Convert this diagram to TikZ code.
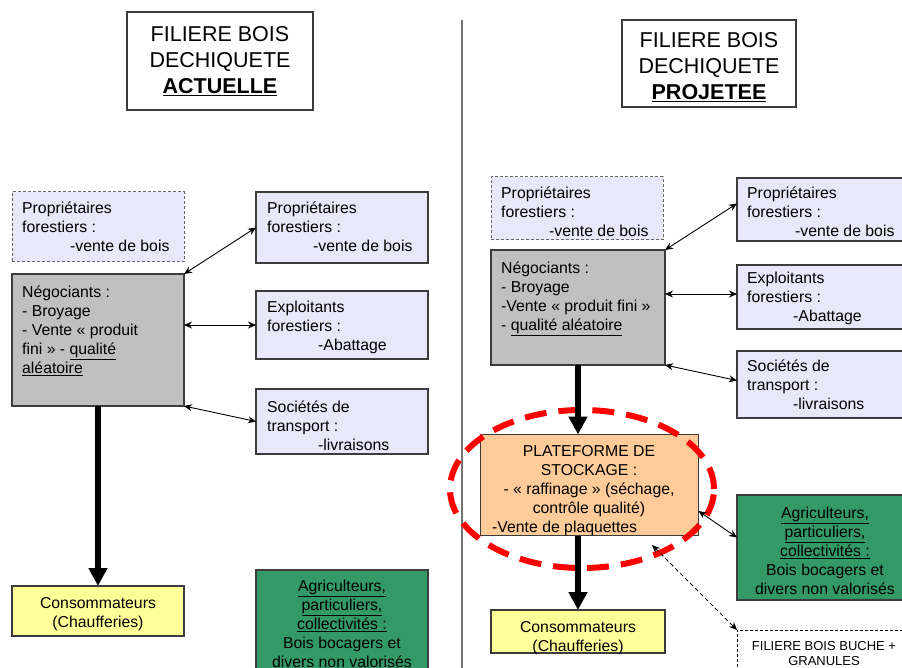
\documentclass[tikz,border=0pt]{standalone}
\usepackage{fontspec}
\setmainfont{Liberation Sans}
\usetikzlibrary{arrows.meta,shapes.geometric}
\definecolor{lav}{RGB}{232,232,250}
\definecolor{grisbox}{RGB}{192,192,192}
\definecolor{jaune}{RGB}{255,255,153}
\definecolor{vert}{RGB}{51,153,102}
\definecolor{peche}{RGB}{255,204,153}
\definecolor{bord}{RGB}{60,60,60}
\newcommand\mysta{\rule{0pt}{13pt}}
\newcommand\mystb{\rule{0pt}{17pt}}
\newcommand\mystc{\rule{0pt}{11pt}}
\begin{document}
\begin{tikzpicture}[x=1pt,y=-1pt,
  bx/.style={draw=bord, line width=1.1pt, inner sep=0pt, outer sep=0pt},
  dbx/.style={draw=black!60, line width=1pt, dash pattern=on 3pt off 2pt, inner sep=0pt, outer sep=0pt},
  txt/.style={inner sep=0pt, align=left, font=\fontsize{15.8}{19}\selectfont, anchor=north west},
  ctxt/.style={inner sep=0pt, align=center, font=\fontsize{15.8}{19}\selectfont, anchor=north},
  ttl/.style={inner sep=0pt, align=center, font=\fontsize{21.5}{26}\selectfont, anchor=north},
  thinarr/.style={line width=0.9pt, {Stealth[length=8pt,width=7pt]}-{Stealth[length=8pt,width=7pt]}},
  dasharr/.style={line width=0.9pt, dash pattern=on 4pt off 3pt, {Stealth[length=8pt,width=7pt]}-{Stealth[length=8pt,width=7pt]}},
  thickarr/.style={line width=6pt, -{Triangle[length=18pt,width=18pt]}}
]
\useasboundingbox (0,0) rectangle (902,668);

% divider
\draw[draw=black!55, line width=1.2pt] (462,20) -- (462,668);

% titles
\node[bx, fill=white, minimum width=186pt, minimum height=98pt] (tL) at (220,61) {};
\node[ttl] (tLt) at (220,24) {\mystb FILIERE BOIS\\DECHIQUETE\\\textbf{\underline{ACTUELLE}}};
\node[bx, fill=white, minimum width=174pt, minimum height=87pt] (tR) at (709,63.5) {};
\node[ttl] (tRt) at (709,30) {\mystb FILIERE BOIS\\DECHIQUETE\\\textbf{\underline{PROJETEE}}};

% ---------------- left column ----------------
\node[dbx, fill=lav, minimum width=172pt, minimum height=70pt] (pfL) at (98,227) {};
\node[txt] (pfLt) at (22,200) {\mysta Propriétaires\\forestiers :\\\hspace*{48pt}-vente de bois};

\node[bx, fill=grisbox, minimum width=172pt, minimum height=132pt] (negL) at (98,340) {};
\node[txt] (negLt) at (22,284) {\mysta Négociants :\\- Broyage\\- Vente « produit\\fini » - \underline{qualité}\\\underline{aléatoire}};

\node[bx, fill=lav, minimum width=172pt, minimum height=71pt] (prL) at (342,227.5) {};
\node[txt] (prLt) at (267,200) {\mysta Propriétaires\\forestiers :\\\hspace*{46pt}-vente de bois};

\node[bx, fill=lav, minimum width=172pt, minimum height=68pt] (exL) at (342,325) {};
\node[txt] (exLt) at (267,299) {\mysta Exploitants\\forestiers :\\\hspace*{51pt}-Abattage};

\node[bx, fill=lav, minimum width=172pt, minimum height=65pt] (soL) at (342,421.5) {};
\node[txt] (soLt) at (267,399) {\mysta Sociétés de\\transport :\\\hspace*{51pt}-livraisons};

\node[bx, fill=jaune, minimum width=172pt, minimum height=50pt] (coL) at (98,611) {};
\node[ctxt] (coLt) at (98,595) {\mysta Consommateurs\\(Chaufferies)};

\node[bx, fill=vert, minimum width=172pt, minimum height=120pt] (agL) at (342,630) {};
\node[ctxt] (agLt) at (342,578) {\mysta\underline{Agriculteurs,}\\\underline{particuliers,}\\\underline{collectivités :}\\Bois bocagers et\\divers non valorisés};

% ---------------- right column ----------------
\node[dbx, fill=lav, minimum width=172pt, minimum height=63pt] (pfR) at (577,208.5) {};
\node[txt] (pfRt) at (501,185) {\mysta Propriétaires\\forestiers :\\\hspace*{48pt}-vente de bois};

\node[bx, fill=grisbox, minimum width=174pt, minimum height=115pt] (negR) at (578,307.5) {};
\node[txt] (negRt) at (501,260) {\mysta Négociants :\\- Broyage\\-Vente « produit fini »\\- \underline{qualité aléatoire}};

\node[bx, fill=lav, minimum width=178pt, minimum height=63pt] (prR) at (826,209.5) {};
\node[txt] (prRt) at (747,185) {\mysta Propriétaires\\forestiers :\\\hspace*{48pt}-vente de bois};

\node[bx, fill=lav, minimum width=178pt, minimum height=64pt] (exR) at (826,297) {};
\node[txt] (exRt) at (747,270) {\mysta Exploitants\\forestiers :\\\hspace*{46pt}-Abattage};

\node[bx, fill=lav, minimum width=178pt, minimum height=67pt] (soR) at (826,384.5) {};
\node[txt] (soRt) at (747,358) {\mysta Sociétés de\\transport :\\\hspace*{46pt}-livraisons};

\node[bx, fill=peche, minimum width=218pt, minimum height=101pt] (plR) at (589.5,485) {};
\node[ctxt] (plRt) at (589,443) {\mysta PLATEFORME DE\\STOCKAGE :\\- « raffinage » (séchage,\\contrôle qualité)};
\node[txt] (plRv) at (492,519) {\mysta -Vente de plaquettes};

\node[bx, fill=jaune, minimum width=174pt, minimum height=43pt] (coR) at (578,631.5) {};
\node[ctxt] (coRt) at (578,619) {\mysta Consommateurs\\(Chaufferies)};

\node[bx, fill=vert, minimum width=178pt, minimum height=105pt] (agR) at (826,547.5) {};
\node[ctxt] (agRt) at (825,505) {\mysta\underline{Agriculteurs,}\\\underline{particuliers,}\\\underline{collectivités :}\\Bois bocagers et\\divers non valorisés};

\node[dbx, draw=black, fill=white, minimum width=178pt, minimum height=60pt] (fbR) at (826,660) {};
\node[inner sep=0pt, align=center, font=\fontsize{13}{15}\selectfont, anchor=north] (fbRt) at (824,639) {\mystc FILIERE BOIS BUCHE +\\GRANULES};

% red dashed ellipse
\node[ellipse, draw=red, line width=6pt, dash pattern=on 22pt off 12pt, minimum width=264pt, minimum height=158pt, inner sep=0pt] (ring) at (582,489) {};

% ---------------- connectors ----------------
\draw[thinarr] (negL.north east) -- (prL.west);
\draw[thinarr] (negL.east |- exL.west) -- (exL.west);
\draw[thinarr] (negL.south east) -- (soL.west);
\draw[thickarr] (negL.south) -- (coL.north);

\draw[thinarr] (negR.north east) -- ([yshift=6pt]prR.west);
\draw[thinarr] ([yshift=3pt]negR.east |- exR.west) -- ([yshift=3pt]exR.west);
\draw[thinarr] (negR.south east) -- ([yshift=4pt]soR.west);
\draw[thickarr] (negR.south) -- (negR.south |- plR.north);
\draw[thickarr] (coR.north |- plR.south) -- (coR.north);
\draw[thinarr] ([yshift=-26pt]plR.east) -- ([yshift=10pt]agR.west);
\coordinate (dstart) at (652,545);
\draw[dasharr] (dstart) -- (fbR.north west);
\end{tikzpicture}
\end{document}
